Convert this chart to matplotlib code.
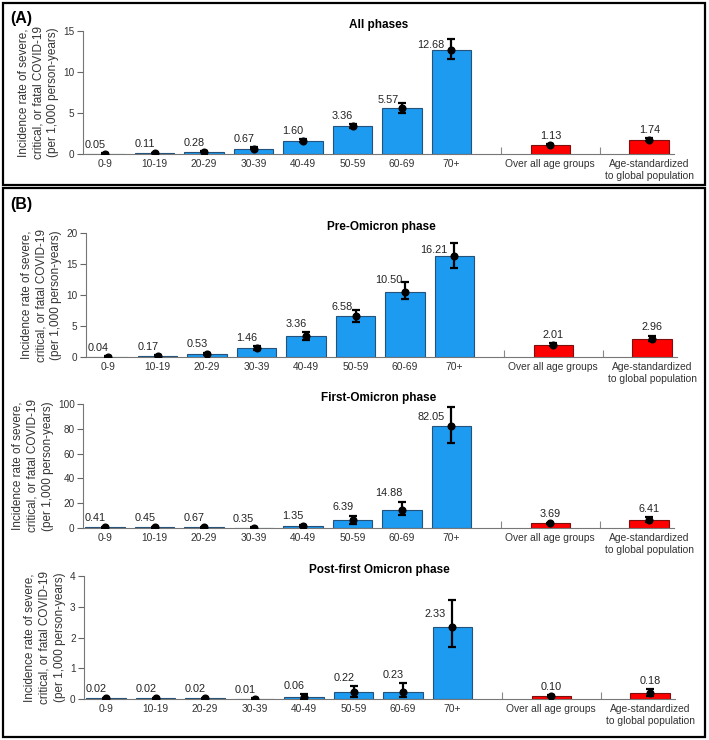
import matplotlib
matplotlib.use("Agg")
import matplotlib.pyplot as plt
from matplotlib.patches import Rectangle
import numpy as np

plt.rcParams['font.family'] = ['Liberation Sans', 'DejaVu Sans']

categories = ["0-9", "10-19", "20-29", "30-39", "40-49", "50-59", "60-69", "70+",
              "Over all age groups", "Age-standardized\nto global population"]

titles = ["All phases", "Pre-Omicron phase", "First-Omicron phase", "Post-first Omicron phase"]

all_vals = [0.05, 0.11, 0.28, 0.67, 1.60, 3.36, 5.57, 12.68, 1.13, 1.74]
all_lo = [0.03, 0.08, 0.23, 0.56, 1.42, 3.12, 5.00, 11.55, 1.06, 1.57]
all_hi = [0.08, 0.15, 0.34, 0.80, 1.80, 3.62, 6.20, 14.00, 1.20, 1.93]

pre_vals = [0.04, 0.17, 0.53, 1.46, 3.36, 6.58, 10.50, 16.21, 2.01, 2.96]
pre_lo = [0.01, 0.10, 0.40, 1.20, 2.80, 5.60, 9.30, 14.40, 1.85, 2.60]
pre_hi = [0.10, 0.27, 0.68, 1.75, 4.00, 7.60, 12.05, 18.40, 2.20, 3.40]

first_vals = [0.41, 0.45, 0.67, 0.35, 1.35, 6.39, 14.88, 82.05, 3.69, 6.41]
first_lo = [0.15, 0.20, 0.35, 0.10, 0.60, 3.60, 10.50, 68.50, 3.00, 4.80]
first_hi = [0.90, 0.95, 1.20, 0.80, 2.50, 9.80, 21.00, 97.60, 4.40, 8.50]

post_vals = [0.02, 0.02, 0.02, 0.01, 0.06, 0.22, 0.23, 2.33, 0.10, 0.18]
post_lo = [0.01, 0.01, 0.01, 0.00, 0.01, 0.08, 0.05, 1.68, 0.08, 0.10]
post_hi = [0.04, 0.04, 0.04, 0.03, 0.15, 0.42, 0.52, 3.23, 0.12, 0.32]

ymaxes = [15, 20, 100, 4]
yticks = [[0, 5, 10, 15], [0, 5, 10, 15, 20], [0, 20, 40, 60, 80, 100], [0, 1, 2, 3, 4]]

series = [(all_vals, all_lo, all_hi), (pre_vals, pre_lo, pre_hi),
          (first_vals, first_lo, first_hi), (post_vals, post_lo, post_hi)]

W, H = 709, 740
fig = plt.figure(figsize=(W / 100, H / 100), dpi=100)

# axes placement in pixels: (left, zero_y, top_y, right)
boxes = [(83, 154, 31, 674), (86, 357, 233, 677), (83, 528, 404, 674), (84, 699, 576, 675)]

positions = np.array([0, 1, 2, 3, 4, 5, 6, 7, 9, 11])
blue = '#1c9bf0'
red = '#ff0000'
colors = [blue] * 8 + [red] * 2
edges = ['#24527a'] * 8 + ['#7a1010'] * 2
ylabel = "Incidence rate of severe,\ncritical, or fatal COVID-19\n(per 1,000 person-years)"

for k, ((vals, lo, hi), (l, y0, yt, r)) in enumerate(zip(series, boxes)):
    ax = fig.add_axes([l / W, 1 - y0 / H, (r - l) / W, (y0 - yt) / H])
    vals = np.array(vals); lo = np.array(lo); hi = np.array(hi)
    ymax = ymaxes[k]
    ax.bar(positions, vals, width=0.8, color=colors, edgecolor=edges, linewidth=0.8, zorder=2)
    ax.errorbar(positions, vals, yerr=[vals - lo, hi - vals], fmt='o', color='black',
                markersize=4.8, elinewidth=1.6, capsize=3, capthick=1.6, zorder=3)
    for i, (p, v, h) in enumerate(zip(positions, vals, hi)):
        txt = f"{v:.2f}"
        if i >= 8:
            ax.annotate(txt, (p, h), xytext=(0, 2.5), textcoords='offset points',
                        ha='center', va='bottom', fontsize=7.8, color='#222222')
        elif h > 0.75 * ymax:
            ax.annotate(txt, (p, (v + h) / 2), xytext=(-5, 0), textcoords='offset points',
                        ha='right', va='center', fontsize=7.8, color='#222222')
        elif h > 0.25 * ymax:
            ax.annotate(txt, (p, h), xytext=(-2, 2), textcoords='offset points',
                        ha='right', va='center', fontsize=7.8, color='#222222')
        else:
            ax.annotate(txt, (p, h), xytext=(0.5, 2.5), textcoords='offset points',
                        ha='right', va='bottom', fontsize=7.8, color='#222222')
    ax.set_xlim(-0.45, 11.5)
    ax.set_ylim(0, ymax)
    ax.set_yticks(yticks[k])
    ax.set_xticks(positions)
    ax.set_xticklabels(categories)
    lab = ax.get_xticklabels()[-1]
    lab.set_fontsize(6.3)
    lab.set_linespacing(1.3)
    ax.set_xticks([8, 10], minor=True)
    ax.tick_params(axis='x', which='major', length=0, pad=3.5, labelsize=7.4, colors='#333333')
    ax.tick_params(axis='x', which='minor', direction='in', length=5, color='#888888', width=0.8)
    ax.tick_params(axis='y', length=4, width=0.8, color='#666666', labelsize=7.2, labelcolor='#333333', pad=2)
    for s in ['top', 'right']:
        ax.spines[s].set_visible(False)
    for s in ['left', 'bottom']:
        ax.spines[s].set_color('#777777')
        ax.spines[s].set_linewidth(0.8)
    ax.set_ylabel(ylabel, fontsize=8.5, color='#333333', linespacing=1.33, labelpad=3)
    ax.set_title(titles[k], fontsize=8.5, fontweight='bold', pad=2.5)

# outer frames
fig.patches.append(Rectangle((3 / W, 1 - 185 / H), 702 / W, 182 / H, transform=fig.transFigure,
                             fill=False, edgecolor='black', linewidth=1.6))
fig.patches.append(Rectangle((3 / W, 1 - 737 / H), 702 / W, 549 / H, transform=fig.transFigure,
                             fill=False, edgecolor='black', linewidth=1.6))
fig.text(10 / W, 1 - 19 / H, "(A)", fontsize=11.5, fontweight='bold', va='center', ha='left')
fig.text(10 / W, 1 - 204 / H, "(B)", fontsize=11.5, fontweight='bold', va='center', ha='left')

fig.savefig("out.png", dpi=100)
